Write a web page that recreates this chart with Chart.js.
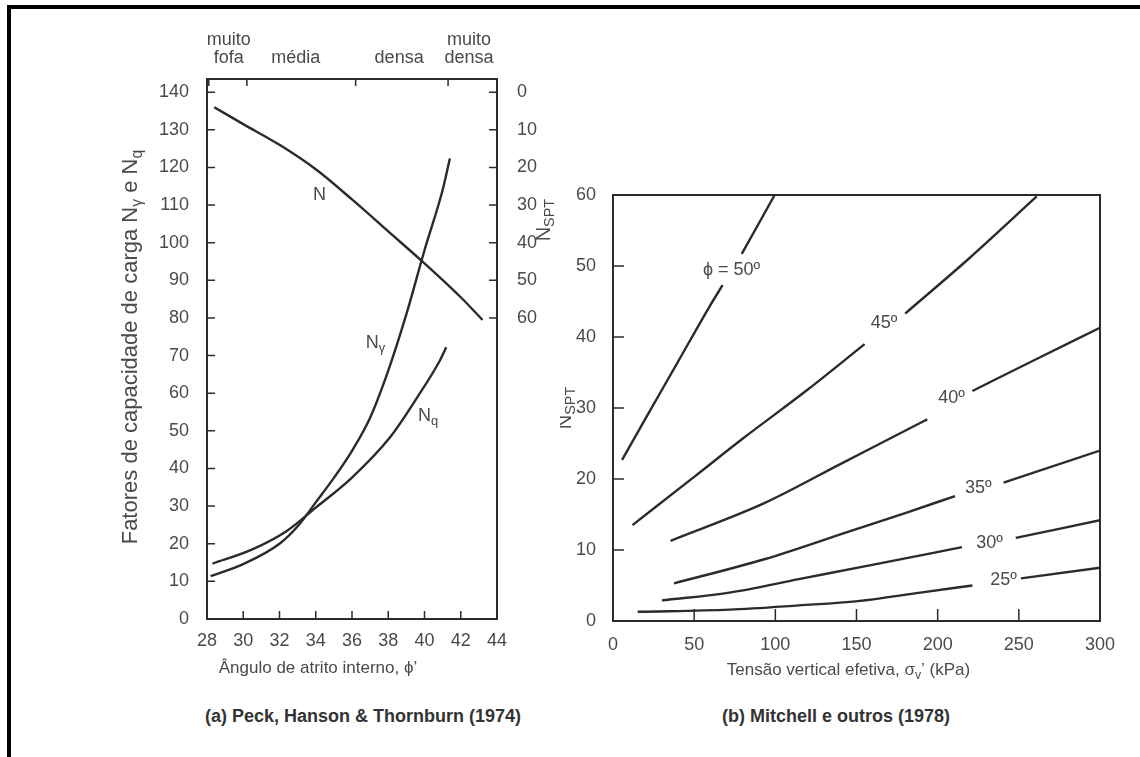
<!DOCTYPE html>
<html>
<head>
<meta charset="utf-8">
<script src="https://cdn.jsdelivr.net/npm/chart.js@4.4.0/dist/chart.umd.min.js"></script>
<style>
body{margin:0;width:1140px;height:757px;background:#fff;position:relative;overflow:hidden}
#frame{position:absolute;left:7px;top:5px;width:1140px;height:760px;border-top:4px solid #000;border-left:4px solid #000}
.panel{position:absolute;top:0}
.panel canvas{position:absolute;left:0;top:0}
.cap{position:absolute;top:706px;font:bold 18px "Liberation Sans",Arial,sans-serif;color:#333;white-space:nowrap}
</style>
</head>
<body>
<div id="frame"></div>
<div class="panel" style="left:0;width:560px;height:700px"><canvas id="left" width="560" height="700"></canvas></div>
<div class="panel" style="left:560px;width:580px;height:700px"><canvas id="right" width="580" height="700"></canvas></div>
<div class="cap" style="left:205px">(a) Peck, Hanson &amp; Thornburn (1974)</div>
<div class="cap" style="left:722px">(b) Mitchell e outros (1978)</div>
<script>
const FONT = '"Liberation Sans", Arial, sans-serif';
const TXT = '#4a4a4a';
const INK = '#2b2b2b';

// ---- (a) Peck, Hanson & Thornburn ----
const angleTicks = [28, 30, 32, 34, 36, 38, 40, 42, 44];
const factorTicks = [0, 10, 20, 30, 40, 50, 60, 70, 80, 90, 100, 110, 120, 130, 140];
const nsptTicks = [0, 10, 20, 30, 40, 50, 60];
const densityLabels = [['muito', 'fofa'], 'média', 'densa', ['muito', 'densa']];
const densityAt = [29.2, 32.9, 38.6, 42.45];
const densityBounds = [28.1, 30.2, 36.2, 41.3];

// N (read on the N_SPT scale at right)
const phiN = [28.4, 30, 32, 34, 36, 38, 40, 42, 43.2];
const nsptN = [4, 8.5, 14, 20.5, 28.5, 37, 45.5, 54.5, 60.5];
// N gamma
const phiNg = [28.2, 30.0, 32.0, 33.1, 34.0, 35.0, 36.0, 37.0, 38.0, 39.0, 40.0, 41.0, 41.4];
const valNg = [11.4, 14.6, 20.0, 25.2, 31.0, 37.5, 44.7, 53.5, 66.0, 81.0, 98.0, 114.0, 122.4];
// N q
const phiNq = [28.3, 30.5, 32.4, 34.0, 36.0, 38.1, 39.6, 40.85, 41.2];
const valNq = [14.7, 18.5, 23.4, 29.6, 37.6, 48.3, 58.9, 68.7, 72.2];

const curveNames = ['N', 'N_{γ}', 'N_{q}'];
const curveNameX = [34.2, 37.3, 40.2];
const curveNameY = [112.6, 73.3, 54.0];

// ---- (b) Mitchell e outros ----
const stressTicks = [0, 50, 100, 150, 200, 250, 300];
const nTicks = [0, 10, 20, 30, 40, 50, 60];
const phiNames = ['ϕ = 50º', '45º', '40º', '35º', '30º', '25º'];
const phiNameX = [73, 167, 208.5, 225, 232, 240.6];
const phiNameY = [49.5, 42.0, 31.4, 18.7, 11.0, 5.7];

const s50 = [5.6, 20, 40, 60, 67.5, 73, 79.3, 99.6];
const n50 = [22.7, 28.5, 36.5, 44.5, 47.3, null, 51.7, 60.0];
const s45 = [12, 50, 80, 120, 155, 167, 180, 220, 261];
const n45 = [13.5, 20.3, 25.7, 32.6, 39.0, null, 43.3, 51.2, 59.8];
const s40 = [35.5, 93.2, 140, 185, 193.6, 208.5, 221.4, 260, 300];
const n40 = [11.3, 16.6, 22.1, 27.4, 28.4, null, 32.4, 36.8, 41.3];
const s35 = [37.6, 93.2, 146.6, 180, 210.7, 225, 240.6, 300];
const n35 = [5.3, 8.7, 12.7, 15.2, 17.6, null, 19.5, 24.0];
const s30 = [30.1, 71.8, 114.5, 157.3, 215, 232, 248.1, 300];
const n30 = [2.9, 4.0, 5.9, 7.8, 10.4, null, 11.7, 14.2];
const s25 = [15.2, 71.8, 114.5, 150.9, 189.3, 221.4, 240.6, 251.3, 300];
const n25 = [1.3, 1.6, 2.2, 2.8, 4.0, 5.0, null, 6.0, 7.5];

function pts(xs, ys) { return xs.map((x, i) => ({x: x, y: ys[i]})); }

function richText(ctx, str, x, y, size, rot) {
  const parts = [];
  str.split(/(_\{[^}]*\})/).forEach(p => {
    if (!p) return;
    if (p.startsWith('_{')) parts.push({t: p.slice(2, -1), sub: true});
    else parts.push({t: p, sub: false});
  });
  ctx.save();
  ctx.translate(x, y);
  if (rot) ctx.rotate(rot);
  ctx.fillStyle = TXT;
  ctx.textBaseline = 'middle';
  ctx.textAlign = 'left';
  let w = 0;
  parts.forEach(p => { ctx.font = (p.sub ? size * 0.72 : size) + 'px ' + FONT; w += ctx.measureText(p.t).width; });
  let cx = -w / 2;
  parts.forEach(p => {
    const s = p.sub ? size * 0.72 : size;
    ctx.font = s + 'px ' + FONT;
    ctx.fillText(p.t, cx, p.sub ? size * 0.32 : 0);
    cx += ctx.measureText(p.t).width;
  });
  ctx.restore();
}

function fixTicks(arr) { return s => { s.ticks = arr.map(v => ({value: v})); }; }
const tickFont = {family: FONT, size: 18};

const leftDeco = {
  id: 'leftDeco',
  afterDatasetsDraw(chart) {
    const {ctx, chartArea: a, scales} = chart;
    ctx.save();
    ctx.strokeStyle = INK;
    ctx.lineWidth = 2;
    ctx.strokeRect(a.left, a.top, a.right - a.left, a.bottom - a.top);
    ctx.lineWidth = 1.5;
    ctx.beginPath();
    angleTicks.slice(1, -1).forEach(v => { const x = scales.x.getPixelForValue(v); ctx.moveTo(x, a.bottom); ctx.lineTo(x, a.bottom - 8); });
    densityBounds.forEach(v => { const x = scales.x.getPixelForValue(v); ctx.moveTo(x, a.top); ctx.lineTo(x, a.top + 7); });
    factorTicks.forEach(v => { const y = scales.y.getPixelForValue(v); ctx.moveTo(a.left, y); ctx.lineTo(a.left + 8, y); });
    nsptTicks.forEach(v => { const y = scales.y2.getPixelForValue(v); ctx.moveTo(a.right, y); ctx.lineTo(a.right - 8, y); });
    ctx.stroke();
    curveNames.forEach((t, i) => {
      richText(ctx, t, scales.x.getPixelForValue(curveNameX[i]), scales.y.getPixelForValue(curveNameY[i]), 18, 0);
    });
    richText(ctx, 'Fatores de capacidade de carga N_{γ} e N_{q}', a.left - 76, (a.top + a.bottom) / 2 - 2, 22, -Math.PI / 2);
    richText(ctx, 'N_{SPT}', a.right + 47, scales.y2.getPixelForValue(34), 20, -Math.PI / 2);
    richText(ctx, 'Ângulo de atrito interno, ϕ\u2019', (a.left + a.right) / 2 - 34, a.bottom + 49, 17, 0);
    ctx.restore();
  }
};

new Chart(document.getElementById('left'), {
  type: 'line',
  data: {
    datasets: [
      {label: 'N', data: pts(phiN, nsptN), yAxisID: 'y2'},
      {label: 'Nγ', data: pts(phiNg, valNg), yAxisID: 'y'},
      {label: 'Nq', data: pts(phiNq, valNq), yAxisID: 'y'}
    ]
  },
  options: {
    responsive: false,
    animation: false,
    layout: {padding: {left: 157, right: 13, top: 20, bottom: 6}},
    elements: {
      line: {borderColor: INK, borderWidth: 2.4, cubicInterpolationMode: 'monotone', fill: false},
      point: {radius: 0}
    },
    plugins: {legend: {display: false}, tooltip: {enabled: false}},
    scales: {
      x: {
        type: 'linear', position: 'bottom', min: 28, max: 44,
        afterBuildTicks: fixTicks(angleTicks),
        afterFit: s => { s.height = 75; },
        grid: {display: false}, border: {display: false},
        ticks: {font: tickFont, color: TXT, padding: 3, maxRotation: 0, autoSkip: false}
      },
      x2: {
        type: 'linear', position: 'top', min: 28, max: 44,
        afterBuildTicks: fixTicks(densityAt),
        afterFit: s => { s.height = 59; },
        grid: {display: false}, border: {display: false},
        ticks: {font: {family: FONT, size: 18, lineHeight: 1.0}, color: TXT, padding: 4, maxRotation: 0, autoSkip: false,
          callback: (v, i) => densityLabels[i]}
      },
      y: {
        type: 'linear', position: 'left', min: 0, max: 143.5,
        afterBuildTicks: fixTicks(factorTicks),
        afterFit: s => { s.width = 50; },
        grid: {display: false}, border: {display: false},
        ticks: {font: tickFont, color: TXT, padding: 10, autoSkip: false}
      },
      y2: {
        type: 'linear', position: 'right', min: -3.5, max: 140, reverse: true,
        afterBuildTicks: fixTicks(nsptTicks),
        afterFit: s => { s.width = 50; },
        grid: {display: false}, border: {display: false},
        ticks: {font: tickFont, color: TXT, padding: 12, autoSkip: false}
      }
    }
  },
  plugins: [leftDeco]
});

const rightDeco = {
  id: 'rightDeco',
  afterDatasetsDraw(chart) {
    const {ctx, chartArea: a, scales} = chart;
    ctx.save();
    ctx.strokeStyle = INK;
    ctx.lineWidth = 2;
    ctx.strokeRect(a.left, a.top, a.right - a.left, a.bottom - a.top);
    ctx.lineWidth = 1.5;
    ctx.beginPath();
    stressTicks.slice(1, -1).forEach(v => { const x = scales.x.getPixelForValue(v); ctx.moveTo(x, a.bottom); ctx.lineTo(x, a.bottom - 12); });
    nTicks.slice(1, -1).forEach(v => { const y = scales.y.getPixelForValue(v); ctx.moveTo(a.left, y); ctx.lineTo(a.left + 11, y); });
    ctx.stroke();
    phiNames.forEach((t, i) => {
      richText(ctx, t, scales.x.getPixelForValue(phiNameX[i]), scales.y.getPixelForValue(phiNameY[i]), 18, 0);
    });
    richText(ctx, 'N_{SPT}', a.left - 48, scales.y.getPixelForValue(30), 20, -Math.PI / 2);
    richText(ctx, 'Tensão vertical efetiva, σ_{v}\u2019 (kPa)', (a.left + a.right) / 2 - 8, a.bottom + 49, 17, 0);
    ctx.restore();
  }
};

new Chart(document.getElementById('right'), {
  type: 'line',
  data: {
    datasets: [
      {label: '50', data: pts(s50, n50)},
      {label: '45', data: pts(s45, n45)},
      {label: '40', data: pts(s40, n40)},
      {label: '35', data: pts(s35, n35)},
      {label: '30', data: pts(s30, n30)},
      {label: '25', data: pts(s25, n25)}
    ]
  },
  options: {
    responsive: false,
    animation: false,
    spanGaps: false,
    layout: {padding: {left: 1, right: 40, top: 195, bottom: 4}},
    elements: {
      line: {borderColor: INK, borderWidth: 2.4, cubicInterpolationMode: 'monotone', fill: false},
      point: {radius: 0}
    },
    plugins: {legend: {display: false}, tooltip: {enabled: false}},
    scales: {
      x: {
        type: 'linear', position: 'bottom', min: 0, max: 300,
        afterBuildTicks: fixTicks(stressTicks),
        afterFit: s => { s.height = 75; },
        grid: {display: false}, border: {display: false},
        ticks: {font: tickFont, color: TXT, padding: 5, maxRotation: 0, autoSkip: false}
      },
      y: {
        type: 'linear', position: 'left', min: 0, max: 60,
        afterBuildTicks: fixTicks(nTicks),
        afterFit: s => { s.width = 52; },
        grid: {display: false}, border: {display: false},
        ticks: {font: tickFont, color: TXT, padding: 9, autoSkip: false}
      }
    }
  },
  plugins: [rightDeco]
});
</script>
</body>
</html>
